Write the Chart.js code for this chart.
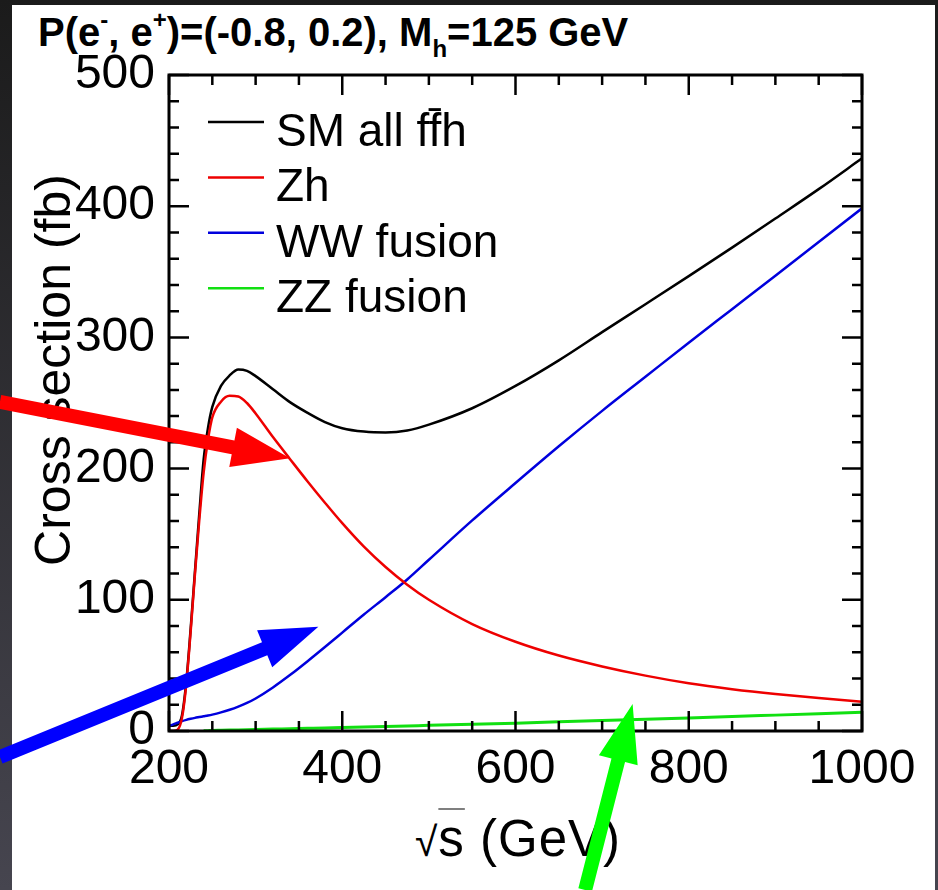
<!DOCTYPE html>
<html>
<head>
<meta charset="utf-8">
<script src="https://cdn.jsdelivr.net/npm/chart.js@4.4.0/dist/chart.umd.min.js"></script>
<style>
  html, body { margin: 0; padding: 0; width: 938px; height: 890px; overflow: hidden; }
  body {
    position: relative;
    background: linear-gradient(#1b1b1b, #46454f);
    font-family: "Liberation Sans", Arial, sans-serif;
    color: #000;
  }
  #panel { position: absolute; left: 12px; top: 5px; width: 923px; height: 885px; background: #fff; }
  #title {
    position: absolute; left: 38px; top: 12px;
    font-weight: bold; font-size: 40px; line-height: 1; white-space: nowrap;
  }
  #title sup { font-size: 60%; vertical-align: 0.75em; line-height: 0; }
  #title sub { font-size: 60%; vertical-align: -0.45em; line-height: 0; }
  #ytitle {
    position: absolute; left: 53px; top: 370px;
    transform: translate(-50%, -50%) rotate(-90deg);
    font-size: 50px; line-height: 1; white-space: nowrap;
  }
  #xtitle {
    position: absolute; left: 518px; top: 838px;
    transform: translate(-50%, -50%);
    font-size: 51px; line-height: 1; white-space: nowrap; letter-spacing: 1px;
  }
  #xtitle .rad { font-weight: 100; font-size: 80%; }
  #xtitle .ov { text-decoration: overline; text-decoration-thickness: 1px; }
  canvas { position: absolute; left: 0; top: 0; }
</style>
</head>
<body>
<div id="panel"></div>
<div id="title">P(e<sup>-</sup>, e<sup>+</sup>)=(-0.8, 0.2), M<sub>h</sub>=125 GeV</div>
<div id="ytitle">Cross section (fb)</div>
<div id="xtitle"><span class="rad">√</span><span class="ov">s</span> (GeV)</div>
<canvas id="chart" width="938" height="890"></canvas>
<script>
// centre-of-mass energy (GeV)
const sqrtS = [200, 205, 210, 215, 220, 225, 230, 235, 240, 245, 250, 260, 270, 280, 290, 300,
  320, 340, 360, 380, 400, 425, 450, 475, 500, 550, 600, 650, 700, 750, 800, 850, 900, 950, 1000];

// cross sections (fb)
const smAll = [4, 4, 5, 12, 38, 78, 122, 166, 207, 231, 247, 263, 271, 275.5, 274.5, 270.5,
  260.5, 250.5, 242.5, 235.5, 230.8, 228.2, 227.5, 229, 233.5, 246, 263, 282.5, 304, 325.3, 346.7, 368.4, 390.6, 413, 436.5];
const zh = [0, 0, 1, 10, 36, 76, 120, 161, 197, 222, 239, 251, 255.5, 255, 250, 242,
  224, 207, 190.2, 174, 158.4, 140.5, 125, 111.5, 100, 81.5, 68, 57.5, 49.2, 42.2, 36.4, 31.9, 28.2, 25.1, 22.3];
const wwFusion = [4, 5, 6.3, 7.5, 8.5, 9.3, 10, 10.6, 11.2, 11.8, 12.5, 14.2, 16.2, 18.6, 21.4, 24.8,
  33.2, 42.8, 53.2, 64, 75, 88.8, 102, 115.5, 130.5, 160.5, 189, 217, 244, 270, 296, 321.5, 347, 372.7, 398.4];
const zzFusion = [null, null, null, null, null, null, null, null, 0.1, 0.25, 0.4, 0.55, 0.7, 0.85, 1.0, 1.15,
  1.45, 1.75, 2.05, 2.35, 2.6, 3.0, 3.45, 3.85, 4.3, 5.1, 6.0, 7.0, 8.0, 9.0, 10.0, 11.0, 12.1, 13.2, 14.3];

const seriesLabels = ['SM all f\u0066\u0304h', 'Zh', 'WW fusion', 'ZZ fusion'];
const seriesColors = ['#000000', '#ee0000', '#0000dd', '#11e011'];

const xTicks = [200, 400, 600, 800, 1000];
const yTicks = [0, 100, 200, 300, 400, 500];

// annotation arrows: tail and tip in data units (GeV, fb)
const arrowTails = [[4.8, 250.8], [4.8, -19.8], [680.4, -121.2]];
const arrowTips = [[339.7, 207.8], [372.4, 79.5], [735.2, 20.5]];
const arrowColors = ['#ff0000', '#0000ff', '#00ff00'];

function toPoints(values) {
  return sqrtS.map((x, i) => ({ x: x, y: values[i] })).filter(p => p.y !== null);
}

// ROOT-style frame with inward ticks on all four sides, legend, arrows
const frameTicks = {
  id: 'frameTicks',
  afterDatasetsDraw(chart) {
    const { ctx, chartArea: a, scales: { x, y } } = chart;
    ctx.save();
    ctx.strokeStyle = '#000';
    ctx.lineWidth = 2.5;
    ctx.beginPath();
    for (let v = 200; v <= 1000; v += 50) {
      const len = v % 200 === 0 ? 20 : 10;
      const px = x.getPixelForValue(v);
      ctx.moveTo(px, a.bottom); ctx.lineTo(px, a.bottom - len);
      ctx.moveTo(px, a.top); ctx.lineTo(px, a.top + len);
    }
    for (let v = 0; v <= 500; v += 20) {
      const len = v % 100 === 0 ? 20 : 10;
      const py = y.getPixelForValue(v);
      ctx.moveTo(a.left, py); ctx.lineTo(a.left + len, py);
      ctx.moveTo(a.right, py); ctx.lineTo(a.right - len, py);
    }
    ctx.stroke();
    ctx.lineWidth = 3;
    ctx.strokeRect(a.left, a.top, a.right - a.left, a.bottom - a.top);

    // legend
    ctx.font = '46px "Liberation Sans", Arial, sans-serif';
    ctx.textBaseline = 'alphabetic';
    ctx.textAlign = 'left';
    chart.data.datasets.forEach((ds, i) => {
      const ly = a.top + 47 + i * 55.4;
      ctx.strokeStyle = ds.borderColor;
      ctx.lineWidth = 2.5;
      ctx.beginPath();
      ctx.moveTo(a.left + 39, ly);
      ctx.lineTo(a.left + 95, ly);
      ctx.stroke();
      ctx.fillStyle = '#000';
      ctx.fillText(ds.label, a.left + 107, ly + 24);
    });
    ctx.restore();
  },
  afterDraw(chart) {
    const { ctx, scales: { x, y } } = chart;
    ctx.save();
    arrowTails.forEach((t, i) => {
      const x0 = x.getPixelForValue(t[0]), y0 = y.getPixelForValue(t[1]);
      const x1 = x.getPixelForValue(arrowTips[i][0]), y1 = y.getPixelForValue(arrowTips[i][1]);
      const dx = x1 - x0, dy = y1 - y0, d = Math.hypot(dx, dy);
      const ux = dx / d, uy = dy / d, nx = -uy, ny = ux;
      const head = 58, half = 20, shaft = 7;
      const bx = x1 - ux * head, by = y1 - uy * head;
      ctx.fillStyle = arrowColors[i];
      ctx.beginPath();
      ctx.moveTo(x0 + nx * shaft, y0 + ny * shaft);
      ctx.lineTo(bx + nx * shaft, by + ny * shaft);
      ctx.lineTo(bx + nx * half, by + ny * half);
      ctx.lineTo(x1, y1);
      ctx.lineTo(bx - nx * half, by - ny * half);
      ctx.lineTo(bx - nx * shaft, by - ny * shaft);
      ctx.lineTo(x0 - nx * shaft, y0 - ny * shaft);
      ctx.closePath();
      ctx.fill();
    });
    ctx.restore();
  }
};

const seriesValues = [smAll, zh, wwFusion, zzFusion];
const drawOrder = [1, 0, 0, 0];

new Chart(document.getElementById('chart'), {
  type: 'line',
  data: {
    datasets: seriesValues.map((vals, i) => ({
      label: seriesLabels[i],
      data: toPoints(vals),
      borderColor: seriesColors[i],
      borderWidth: i === 3 ? 3 : 2.5,
      pointRadius: 0,
      fill: false,
      cubicInterpolationMode: 'monotone',
      order: drawOrder[i]
    }))
  },
  options: {
    responsive: false,
    animation: false,
    devicePixelRatio: 1,
    layout: { padding: { left: 0, top: 75, right: 76, bottom: 0 } },
    plugins: {
      legend: { display: false },
      tooltip: { enabled: false },
      title: { display: false }
    },
    scales: {
      x: {
        type: 'linear',
        min: 200,
        max: 1000,
        afterFit(scale) { scale.height = 159; },
        afterBuildTicks(scale) { scale.ticks = xTicks.map(v => ({ value: v })); },
        grid: { display: false, drawTicks: false },
        border: { display: false },
        ticks: {
          color: '#000',
          padding: 15,
          maxRotation: 0,
          callback: v => String(v),
          font: { family: '"Liberation Sans", Arial, sans-serif', size: 48, lineHeight: 1 }
        }
      },
      y: {
        type: 'linear',
        min: 0,
        max: 500,
        afterFit(scale) { scale.width = 169; },
        afterBuildTicks(scale) { scale.ticks = yTicks.map(v => ({ value: v })); },
        grid: { display: false, drawTicks: false },
        border: { display: false },
        ticks: {
          color: '#000',
          padding: 14,
          callback: v => String(v),
          font: { family: '"Liberation Sans", Arial, sans-serif', size: 48, lineHeight: 1 }
        }
      }
    }
  },
  plugins: [frameTicks]
});
</script>
</body>
</html>
